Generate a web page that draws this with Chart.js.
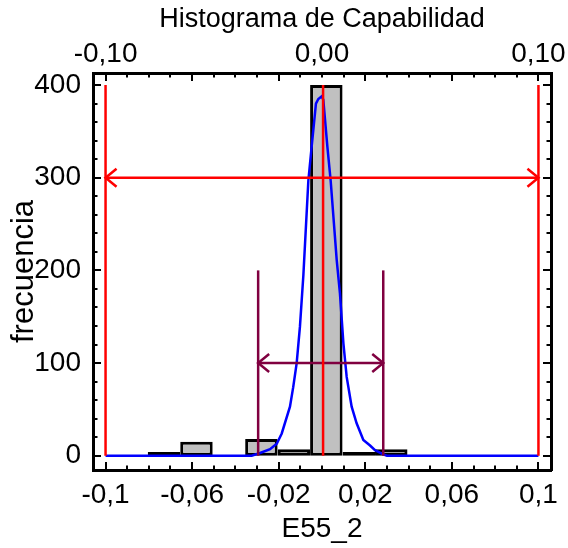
<!DOCTYPE html>
<html>
<head>
<meta charset="utf-8">
<script src="https://cdn.jsdelivr.net/npm/chart.js@4.4.1/dist/chart.umd.min.js"></script>
<style>
  html, body { margin: 0; padding: 0; background: #fff; }
  #wrap { width: 568px; height: 548px; }
</style>
</head>
<body>
<div id="wrap"><canvas id="grafico" width="568" height="548"></canvas></div>
<script>
// ===== DATOS =====
// histograma (centro de cada clase y frecuencia)
const centrosClase = [-0.073, -0.058, -0.043, -0.028, -0.013, 0.002, 0.017, 0.032];
const frecuencias  = [4, 15, 0, 18, 7, 400, 4, 7];
const anchoClase = 0.015;

// curva ajustada (azul)
const curvaX = [-0.1, -0.0325, -0.0286, -0.024, -0.0209, -0.0186, -0.0148, -0.0133, -0.0117, -0.0102,
                -0.0086, -0.0063, -0.0048, -0.0028, -0.0017, -0.0001, 0.0006, 0.0025, 0.004, 0.0068,
                0.0083, 0.0099, 0.0114, 0.0137, 0.016, 0.0191, 0.0222, 0.0245, 0.0283, 0.03, 0.1];
const curvaY = [0, 0, 3, 7, 13, 24, 53, 74, 100, 139,
                195, 297, 333, 380, 385, 388, 384, 333, 297, 211,
                175, 121, 85, 53, 35, 17, 11, 6, 1.5, 0, 0];

// especificaciones (rojo) y limites +-3 sigma (morado)
const limitesEspec = [-0.1, 0.0005, 0.1];
const alturaEspec = 400;
const flechaEspecY = 300;
const limitesSigma = [-0.0295, 0.0283];
const alturaSigma = 200;
const flechaSigmaY = 100;

// ejes
const xRango = [-0.1058, 0.1058];
const yRango = [-15.4, 413];
const pasoMarcaX = 0.01;
const xMarcas = [-0.1, -0.06, -0.02, 0.02, 0.06, 0.1];
const x2Marcas = [-0.1, 0, 0.1];
const yMarcas = [0, 100, 200, 300, 400];

// ===== UTILIDADES =====
function casi(a, b) { return Math.abs(a - b) < 1e-9; }
function enLista(v, lista) { return lista.some(m => casi(m, v)); }
function formatoComa(v, dec) {
  let s = dec ? v.toFixed(dec) : String(Math.round(v * 100) / 100);
  return s.replace('.', ',');
}
function pasosX() {
  const out = [];
  for (let k = -10; k <= 10; k++) out.push(k / 100);
  return out;
}
function pasosY() {
  const out = [];
  for (let v = 0; v <= 400; v += 20) out.push(v);
  return out;
}

// ===== PLUGINS =====
const ticksInternos = {
  id: 'ticksInternos',
  afterDatasetsDraw(chart) {
    const ctx = chart.ctx, a = chart.chartArea;
    ctx.save();
    ctx.strokeStyle = '#000';
    ctx.lineWidth = 2;
    ['x', 'x2', 'y', 'y2'].forEach(id => {
      const s = chart.scales[id];
      const esX = id === 'x' || id === 'x2';
      s.ticks.forEach(t => {
        const mayor = esX ? enLista(t.value, xMarcas) : enLista(t.value, yMarcas);
        const largo = mayor ? 8 : 4.5;
        const p = Math.round(s.getPixelForValue(t.value));
        ctx.beginPath();
        if (id === 'x')  { ctx.moveTo(p, a.bottom); ctx.lineTo(p, a.bottom - largo); }
        if (id === 'x2') { ctx.moveTo(p, a.top);    ctx.lineTo(p, a.top + largo); }
        if (id === 'y')  { ctx.moveTo(a.left, p);   ctx.lineTo(a.left + largo, p); }
        if (id === 'y2') { ctx.moveTo(a.right, p);  ctx.lineTo(a.right - largo, p); }
        ctx.stroke();
      });
    });
    ctx.restore();
  }
};

const puntasFlecha = {
  id: 'puntasFlecha',
  afterDatasetsDraw(chart) {
    const ctx = chart.ctx;
    chart.data.datasets.forEach((ds, i) => {
      if (!ds.flecha) return;
      const pts = chart.getDatasetMeta(i).data;
      const p0 = pts[0], p1 = pts[pts.length - 1];
      ctx.save();
      ctx.strokeStyle = ds.borderColor;
      ctx.lineWidth = ds.borderWidth;
      ctx.beginPath();
      ctx.moveTo(p0.x + 11, p0.y - 9); ctx.lineTo(p0.x, p0.y); ctx.lineTo(p0.x + 11, p0.y + 9);
      ctx.moveTo(p1.x - 11, p1.y - 9); ctx.lineTo(p1.x, p1.y); ctx.lineTo(p1.x - 11, p1.y + 9);
      ctx.stroke();
      ctx.restore();
    });
  }
};

// ===== DATASETS =====
const rojo = '#ff0000', morado = '#800040', azul = '#0000ff';

function segmento(x0, y0, x1, y1, color, orden, flecha) {
  return {
    type: 'line',
    data: [{ x: x0, y: y0 }, { x: x1, y: y1 }],
    borderColor: color, borderWidth: 2.5, pointRadius: 0, tension: 0,
    order: orden, flecha: !!flecha, xAxisID: 'x', yAxisID: 'y'
  };
}

const datasets = [];
limitesEspec.forEach(v => datasets.push(segmento(v, 0, v, alturaEspec, rojo, 1)));
datasets.push(segmento(limitesEspec[0], flechaEspecY, limitesEspec[2], flechaEspecY, rojo, 1, true));
limitesSigma.forEach(v => datasets.push(segmento(v, 0, v, alturaSigma, morado, 2)));
datasets.push(segmento(limitesSigma[0], flechaSigmaY, limitesSigma[1], flechaSigmaY, morado, 2, true));
datasets.push({
  type: 'line',
  data: curvaX.map((x, i) => ({ x: x, y: curvaY[i] })),
  borderColor: azul, borderWidth: 2.5, pointRadius: 0, tension: 0,
  order: 3, xAxisID: 'x', yAxisID: 'y'
});
datasets.push({
  type: 'bar',
  data: centrosClase.map((c, i) => ({ x: c, y: frecuencias[i] })),
  backgroundColor: '#c0c0c0',
  borderColor: '#000',
  borderWidth: ctx => (ctx.raw && ctx.raw.y > 0 ? 3 : 0),
  borderSkipped: false,
  // el ancho minimo lo marca la separacion entre marcas (0,01)
  barPercentage: anchoClase / pasoMarcaX, categoryPercentage: 1,
  order: 4, xAxisID: 'x', yAxisID: 'y'
});

// ===== GRAFICO =====
Chart.defaults.font.family = '"Liberation Sans", Arial, sans-serif';
Chart.defaults.color = '#000';

const fuenteTicks = { size: 28 };

new Chart(document.getElementById('grafico'), {
  type: 'bar',
  data: { datasets: datasets },
  options: {
    responsive: false,
    animation: false,
    devicePixelRatio: 1,
    layout: { padding: 0 },
    plugins: { legend: { display: false }, tooltip: { enabled: false } },
    scales: {
      x: {
        type: 'linear', position: 'bottom', offset: false,
        min: xRango[0], max: xRango[1],
        afterBuildTicks: s => { s.ticks = pasosX().map(v => ({ value: v })); },
        afterFit: s => { s.height = 78; },
        grid: { display: false },
        border: { display: true, color: '#000', width: 3 },
        ticks: {
          autoSkip: false, maxRotation: 0, padding: 0, font: fuenteTicks,
          callback: v => enLista(v, xMarcas) ? formatoComa(v) : ''
        },
        title: { display: true, text: 'E55_2', font: { size: 28 }, padding: { top: 0, bottom: 2 } }
      },
      x2: {
        type: 'linear', position: 'top', offset: false,
        min: xRango[0], max: xRango[1],
        afterBuildTicks: s => { s.ticks = pasosX().map(v => ({ value: v })); },
        afterFit: s => { s.height = 73; },
        grid: { display: false },
        border: { display: true, color: '#000', width: 3 },
        ticks: {
          autoSkip: false, maxRotation: 0, padding: -6, font: fuenteTicks,
          callback: v => enLista(v, x2Marcas) ? formatoComa(v, 2) : ''
        },
        title: { display: true, text: 'Histograma de Capabilidad', font: { size: 27 }, padding: { top: 3, bottom: 0 } }
      },
      y: {
        type: 'linear', position: 'left',
        min: yRango[0], max: yRango[1],
        afterBuildTicks: s => { s.ticks = pasosY().map(v => ({ value: v })); },
        afterFit: s => { s.width = 93; },
        grid: { display: false },
        border: { display: true, color: '#000', width: 3 },
        ticks: {
          autoSkip: false, padding: 4, font: fuenteTicks,
          callback: v => enLista(v, yMarcas) ? String(v) : ''
        },
        title: { display: true, text: 'frecuencia', font: { size: 31 }, padding: { top: 6, bottom: 0 } }
      },
      y2: {
        type: 'linear', position: 'right',
        min: yRango[0], max: yRango[1],
        afterBuildTicks: s => { s.ticks = pasosY().map(v => ({ value: v })); },
        afterFit: s => { s.width = 17; },
        grid: { display: false },
        border: { display: true, color: '#000', width: 3 },
        ticks: { display: false }
      }
    }
  },
  plugins: [ticksInternos, puntasFlecha]
});
</script>
</body>
</html>
